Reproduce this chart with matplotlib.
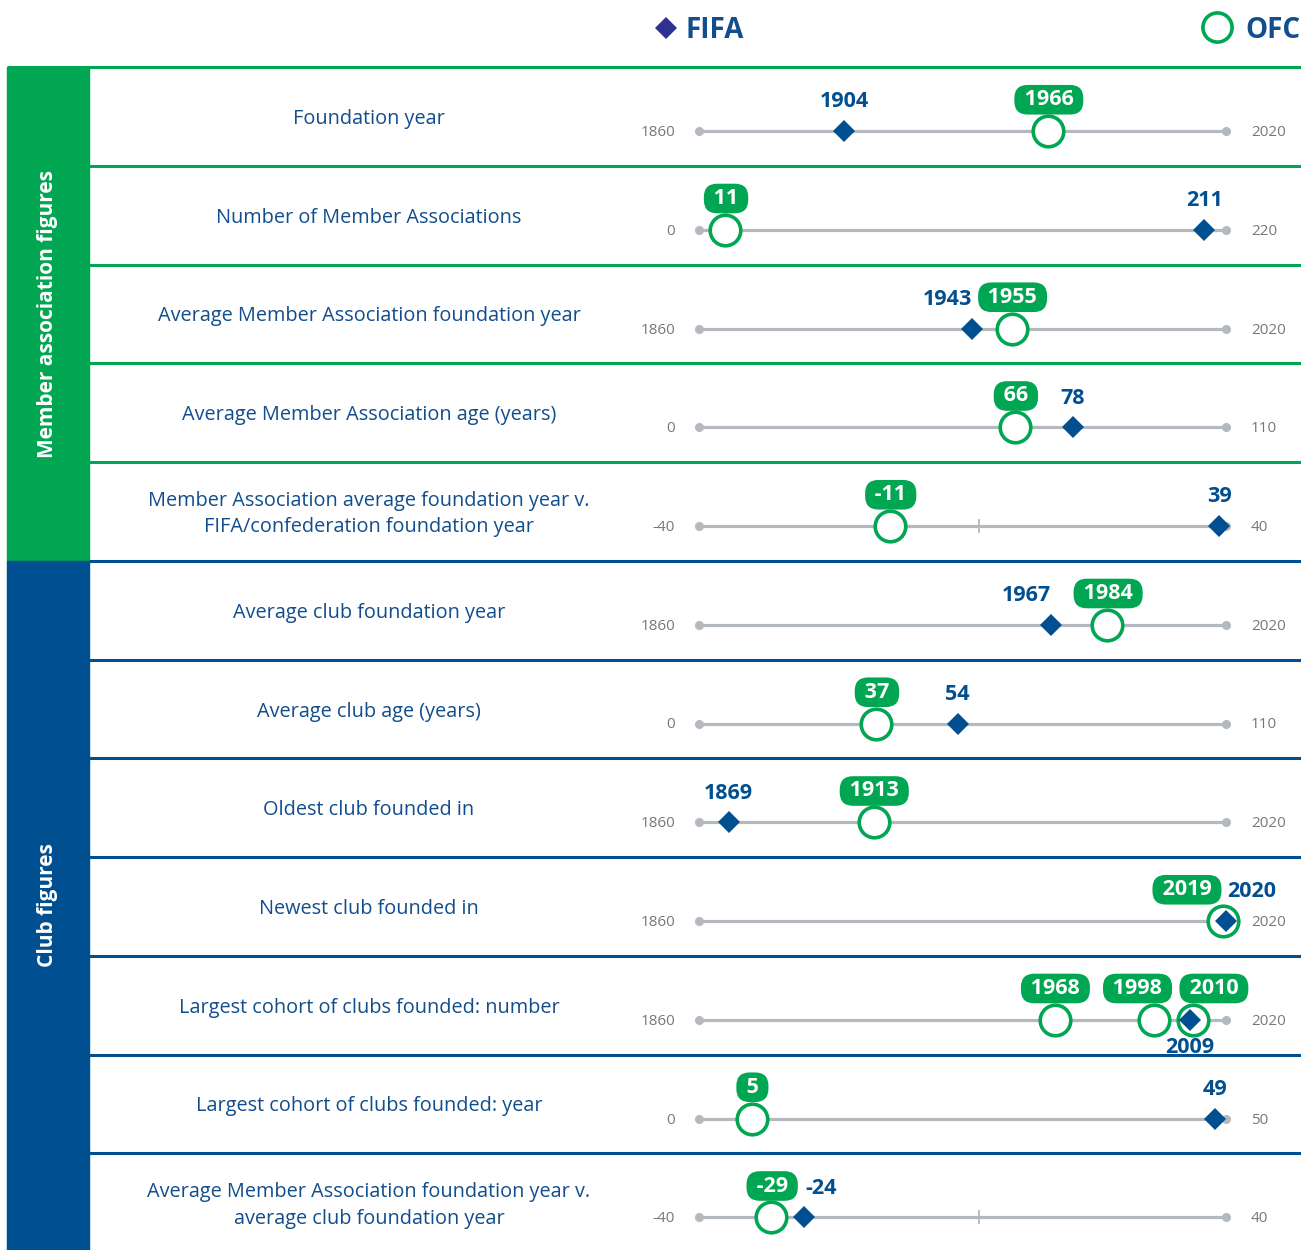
import matplotlib
matplotlib.use("Agg")
import matplotlib.pyplot as plt

# ---------------- data ----------------
row_labels = [
    "Foundation year",
    "Number of Member Associations",
    "Average Member Association foundation year",
    "Average Member Association age (years)",
    "Member Association average foundation year v.\nFIFA/confederation foundation year",
    "Average club foundation year",
    "Average club age (years)",
    "Oldest club founded in",
    "Newest club founded in",
    "Largest cohort of clubs founded: number",
    "Largest cohort of clubs founded: year",
    "Average Member Association foundation year v.\naverage club foundation year",
]
axis_min = [1860, 0, 1860, 0, -40, 1860, 0, 1860, 1860, 1860, 0, -40]
axis_max = [2020, 220, 2020, 110, 40, 2020, 110, 2020, 2020, 2020, 50, 40]
mid_tick = [None, None, None, None, 2.5, None, None, None, None, None, None, 2.5]
fifa_values = [1904, 211, 1943, 78, 39, 1967, 54, 1869, 2020, 2009, 49, -24]
ofc_values = [[1966], [11], [1955], [66], [-11], [1984], [37], [1913], [2019],
              [1968, 1998, 2010], [5], [-29]]
section_names = ["Member association figures", "Club figures"]
section_rows = [5, 7]

# label placement (style): FIFA label alignment/position, OFC pill alignment
fifa_lab = ["c", "c", "r", "c", "c", "r", "c", "c", "l", "below", "c", "l"]
ofc_lab = ["c", "c", "c", "c", "c", "c", "c", "c", "r", "c", "c", "c"]
ofc_shift = {9: [0, -12, 14.5]}  # horizontal pill nudges (points)

# ---------------- style ----------------
GREEN = "#00a651"
BLUE = "#004f91"
NAVY = "#2e3192"
TEXTBLUE = "#124d8c"
GRAY = "#b3b9bf"
TICKGRAY = "#77787b"
FONT = ["Open Sans", "DejaVu Sans"]
plt.rcParams["font.family"] = FONT

W, H = 1301, 1250
fig = plt.figure(figsize=(W / 100, H / 100), dpi=100)

bg = fig.add_axes([0, 0, 1, 1])
bg.set_xlim(0, W)
bg.set_ylim(H, 0)
bg.axis("off")

TOP = 67
RH = 98.75
AX_L, AX_R = 699, 1226
LINE_Y = 64

# sidebar boxes
start = 0
colors = [GREEN, BLUE]
for s, n in enumerate(section_rows):
    y0 = TOP + start * RH
    y1 = H if s == len(section_rows) - 1 else TOP + (start + n) * RH
    bg.add_patch(plt.Rectangle((7, y0), 82, y1 - y0, color=colors[s], zorder=1))
    bg.text(48, (y0 + y1) / 2, section_names[s], rotation=90, ha="center",
            va="center", color="white", fontsize=15, fontweight="bold", zorder=2)
    for k in range(n):
        yy = TOP + (start + k) * RH
        bg.plot([89 if (start + k) > 0 else 7, W], [yy, yy], color=colors[s],
                lw=2.2, solid_capstyle="butt", zorder=2)
    start += n

# legend
bg.plot([666], [28], marker="D", ms=11, color=NAVY, mew=0)
bg.text(686, 31, "FIFA", ha="left", va="center", fontsize=20,
        fontweight="bold", color=TEXTBLUE)
bg.plot([1217], [27], marker="o", ms=21, mfc="white", mec=GREEN, mew=2.6)
bg.text(1245, 31, "OFC", ha="left", va="center", fontsize=20,
        fontweight="bold", color=TEXTBLUE)

pill = dict(boxstyle="round,pad=0.2,rounding_size=0.62", fc=GREEN, ec="none")

for i in range(len(row_labels)):
    top = TOP + i * RH
    # row label
    bg.text(369, top + 52, row_labels[i], ha="center", va="center",
            fontsize=14.3, color=TEXTBLUE, linespacing=1.45)
    # tick labels
    bg.text(675, top + LINE_Y + 1.5, str(axis_min[i]), ha="right", va="center",
            fontsize=11, color=TICKGRAY)
    bg.text(1251, top + LINE_Y + 1.5, str(axis_max[i]), ha="left", va="center",
            fontsize=11, color=TICKGRAY)

    ax = fig.add_axes([AX_L / W, 1 - (top + RH) / H, (AX_R - AX_L) / W, RH / H])
    ax.set_xlim(axis_min[i], axis_max[i])
    ax.set_ylim(RH, 0)
    ax.axis("off")
    lo, hi = axis_min[i], axis_max[i]
    ax.plot([lo, hi], [LINE_Y, LINE_Y], color=GRAY, lw=2.3, zorder=1,
            clip_on=False)
    ax.plot([lo, hi], [LINE_Y, LINE_Y], "o", ms=5.5, color=GRAY, zorder=1,
            clip_on=False)
    if mid_tick[i] is not None:
        ax.plot([mid_tick[i]] * 2, [LINE_Y - 6, LINE_Y + 6], color=GRAY,
                lw=1.3, zorder=1)

    ov = ofc_values[i]
    ax.plot(ov, [LINE_Y] * len(ov), "o", ms=22, mfc="white", mec=GREEN,
            mew=2.6, zorder=3, clip_on=False)
    ax.plot([fifa_values[i]], [LINE_Y], "D", ms=11.5, color=BLUE, mew=0,
            zorder=4, clip_on=False)

    # OFC pill labels
    shifts = ofc_shift.get(i, [0] * len(ov))
    for v, dx in zip(ov, shifts):
        if ofc_lab[i] == "r":
            xt, ha = -4 + dx, "right"
        else:
            xt, ha = 0.5 + dx, "center"
        ax.annotate(f" {v} ", (v, LINE_Y), xytext=(xt, 22.5),
                    textcoords="offset points", ha=ha, va="center",
                    fontsize=15.5, fontweight="bold", color="white",
                    bbox=pill, zorder=5, annotation_clip=False)
    # FIFA labels
    fv = fifa_values[i]
    mode = fifa_lab[i]
    if mode == "c":
        off, ha = (0, 21), "center"
    elif mode == "r":
        off, ha = (-0.5, 21), "right"
    elif mode == "l":
        off, ha = (0.5, 21), "left"
    else:
        off, ha = (0, -20), "center"
    ax.annotate(str(fv), (fv, LINE_Y), xytext=off, textcoords="offset points",
                ha=ha, va="center", fontsize=15.5, fontweight="bold",
                color=BLUE, zorder=5, annotation_clip=False)

fig.savefig("out.png", dpi=100)
